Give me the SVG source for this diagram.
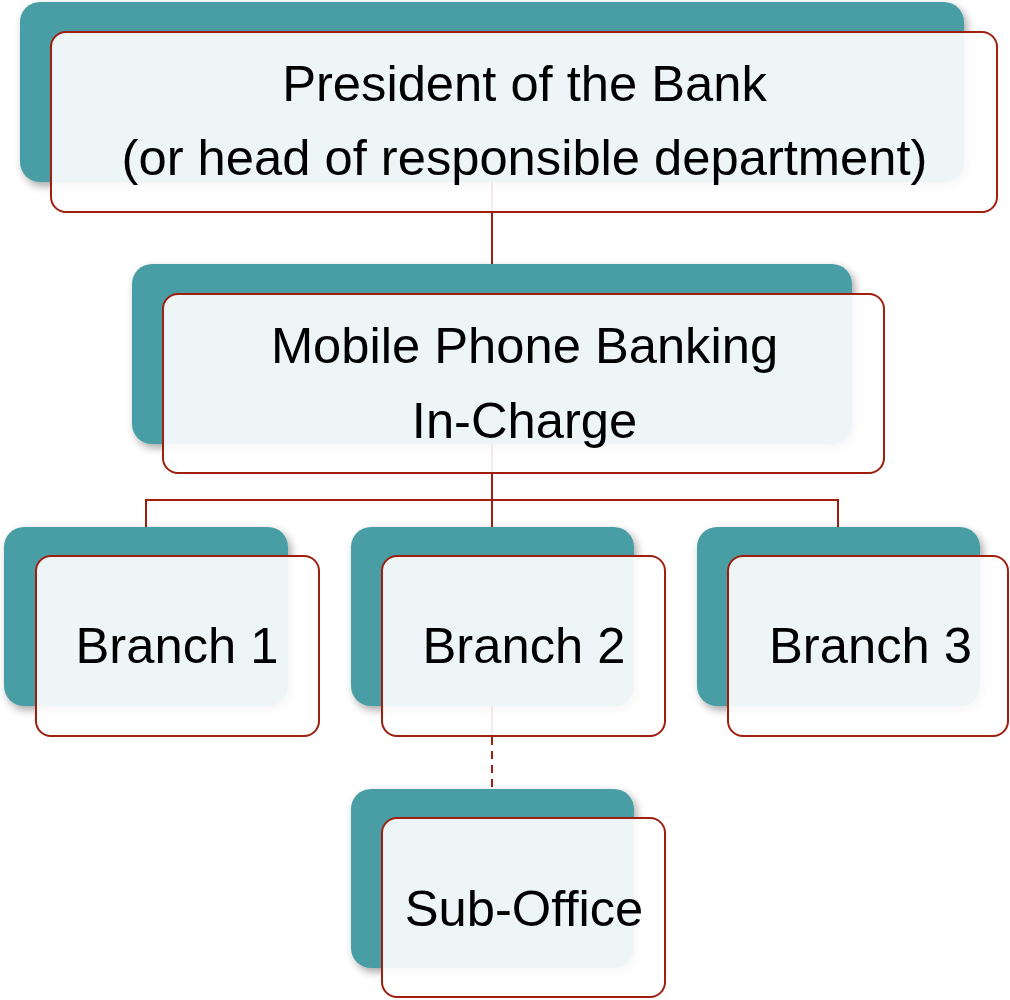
<svg xmlns="http://www.w3.org/2000/svg" width="1010" height="1000" viewBox="0 0 1010 1000">
<defs>
<filter id="sh" x="-10%" y="-10%" width="125%" height="130%">
<feDropShadow dx="3" dy="4" stdDeviation="4" flood-color="#000" flood-opacity="0.35"/>
</filter>
</defs>
<style>
.back{fill:#4a9da5;filter:url(#sh)}
.front{fill:#fff;fill-opacity:0.9;stroke:#a01e0e;stroke-width:2}
.conn{fill:none;stroke:#a01e0e;stroke-width:2}
.dash{stroke-dasharray:8,6}
text{font-family:"Liberation Sans",Arial,sans-serif;font-size:50.7px;fill:#000;text-anchor:middle}
</style>
<rect width="1010" height="1000" fill="#fff"/>
<g id="connectors">
<line class="conn" x1="492" y1="182" x2="492" y2="294"/>
<line class="conn" x1="492" y1="444" x2="492" y2="527"/>
<polyline class="conn" points="146,527 146,500 838,500 838,527"/>
<line class="conn" x1="492" y1="706" x2="492" y2="737"/>
<line class="conn dash" x1="492" y1="737" x2="492" y2="789"/>
</g>
<g id="president">
<rect class="back" x="20" y="2" width="944" height="180" rx="20"/>
<rect class="front" x="51" y="32" width="946" height="180" rx="15"/>
<text x="524.5" y="101">President of the Bank</text>
<text x="524.5" y="175">(or head of responsible department)</text>
</g>
<g id="mobile">
<rect class="back" x="132" y="264" width="720" height="180" rx="20"/>
<rect class="front" x="163" y="294" width="721" height="179" rx="15"/>
<text x="524.5" y="363">Mobile Phone Banking</text>
<text x="524.5" y="438">In-Charge</text>
</g>
<g id="branch1">
<rect class="back" x="4" y="527" width="284" height="179" rx="20"/>
<rect class="front" x="36" y="556" width="283" height="180" rx="15"/>
<text x="177" y="663">Branch 1</text>
</g>
<g id="branch2">
<rect class="back" x="351" y="527" width="283" height="179" rx="20"/>
<rect class="front" x="382" y="556" width="283" height="180" rx="15"/>
<text x="524" y="663">Branch 2</text>
</g>
<g id="branch3">
<rect class="back" x="697" y="527" width="283" height="179" rx="20"/>
<rect class="front" x="728" y="556" width="280" height="180" rx="15"/>
<text x="870.5" y="663">Branch 3</text>
</g>
<g id="suboffice">
<rect class="back" x="351" y="789" width="283" height="179" rx="20"/>
<rect class="front" x="382" y="818" width="283" height="179" rx="15"/>
<text x="524" y="926">Sub-Office</text>
</g>
</svg>
